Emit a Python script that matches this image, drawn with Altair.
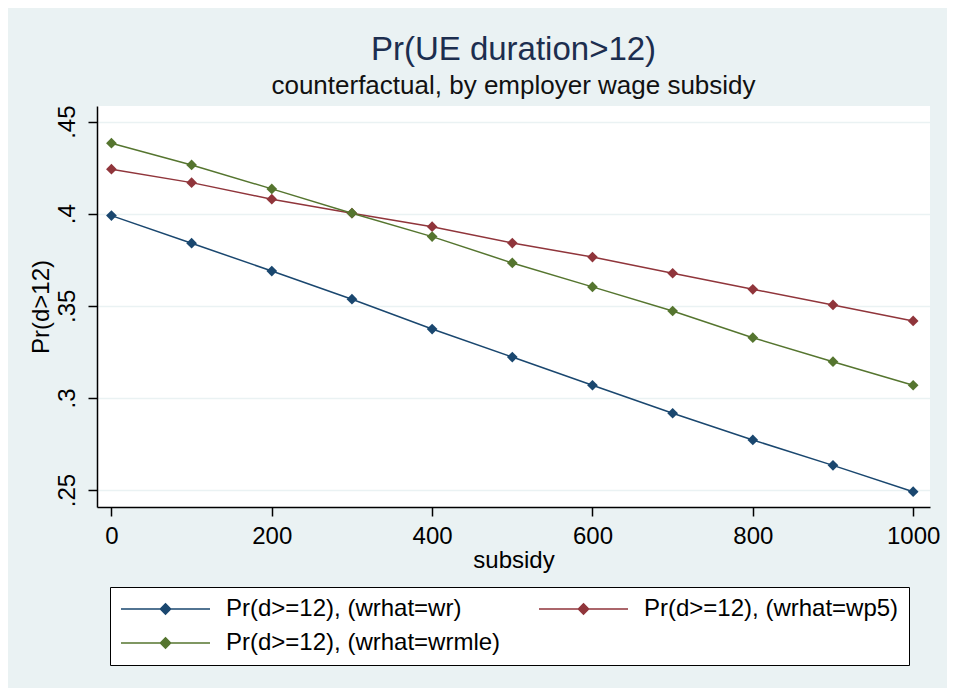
import altair as alt
import pandas as pd

# ---- data ----
subsidy = [0, 100, 200, 300, 400, 500, 600, 700, 800, 900, 1000]
series_names = [
    "Pr(d>=12), (wrhat=wr)",
    "Pr(d>=12), (wrhat=wp5)",
    "Pr(d>=12), (wrhat=wrmle)",
]
pr_wr = [0.3990, 0.3840, 0.3689, 0.3536, 0.3374, 0.3222, 0.3069, 0.2917, 0.2772, 0.2634, 0.2491]
pr_wp5 = [0.4242, 0.4169, 0.4079, 0.4003, 0.3930, 0.3841, 0.3765, 0.3677, 0.3590, 0.3505, 0.3418]
pr_wrmle = [0.4383, 0.4265, 0.4135, 0.4003, 0.3876, 0.3733, 0.3603, 0.3472, 0.3327, 0.3197, 0.3069]
colors = ["#1A476F", "#90353B", "#55752F"]
x_ticks = [0, 200, 400, 600, 800, 1000]
y_ticks = [0.25, 0.30, 0.35, 0.40, 0.45]

rows = []
for name, vals in zip(series_names, [pr_wr, pr_wp5, pr_wrmle]):
    for s, v in zip(subsidy, vals):
        rows.append({"subsidy": s, "pr": v, "series": name})
df = pd.DataFrame(rows)

FONT = "Liberation Sans"
BG = "#EAF2F3"

legend_path = "M-1,0H1M0,-0.115L0.115,0L0,0.115L-0.115,0Z"

legend = alt.Legend(
    title=None,
    orient="none",
    legendX=13,
    legendY=481,
    direction="horizontal",
    columns=2,
    padding=10,
    strokeColor="#000000",
    fillColor="#FFFFFF",
    symbolType=legend_path,
    symbolSize=7921,
    symbolStrokeWidth=1.5,
    symbolOpacity=1,
    clipHeight=24,
    labelFont=FONT,
    labelFontSize=24,
    labelColor="#000000",
    labelOffset=15,
    labelLimit=500,
    columnPadding=37,
    rowPadding=10,
)

color = alt.Color(
    "series:N",
    scale=alt.Scale(domain=series_names, range=colors),
    sort=series_names,
    legend=legend,
)

x = alt.X(
    "subsidy:Q",
    scale=alt.Scale(domain=[-18, 1021], nice=False, zero=False),
    axis=alt.Axis(
        title="subsidy",
        values=x_ticks,
        format="d",
        grid=False,
        labelPadding=8,
        titlePadding=0,
    ),
)
y = alt.Y(
    "pr:Q",
    scale=alt.Scale(domain=[0.2408, 0.4585], nice=False, zero=False),
    axis=alt.Axis(
        title="Pr(d>12)",
        values=y_ticks,
        labelExpr="replace(format(datum.value, '.2~f'), '0.', '.')",
        labelAngle=270,
        labelAlign="center",
        labelBaseline="bottom",
        labelPadding=9,
        titlePadding=2,
        grid=True,
    ),
)

lines = alt.Chart(df).mark_line(strokeWidth=1.5).encode(x=x, y=y, color=color)
points = alt.Chart(df).mark_point(shape="diamond", filled=True, size=115, opacity=1).encode(
    x=x, y=y, color=color
)

chart = (
    alt.layer(lines, points)
    .properties(
        width=833,
        height=401,
        autosize=alt.AutoSizeParams(type="none"),
        padding={"left": 89, "top": 98, "right": 17, "bottom": 181},
        title=alt.TitleParams(
            text="Pr(UE duration>12)",
            subtitle="counterfactual, by employer wage subsidy",
            font=FONT,
            fontSize=33,
            fontWeight="normal",
            color="#1C2E4F",
            subtitleFont=FONT,
            subtitleFontSize=26,
            subtitleColor="#111111",
            subtitlePadding=6,
            anchor="middle",
            offset=6,
        ),
    )
    .configure(background=BG)
    .configure_view(fill="#FFFFFF", stroke=None)
    .configure_axis(
        labelFont=FONT,
        titleFont=FONT,
        labelFontSize=24,
        titleFontSize=24,
        titleFontWeight="normal",
        labelColor="#000000",
        titleColor="#000000",
        domainColor="#000000",
        domainWidth=1.5,
        tickColor="#000000",
        tickWidth=1.5,
        tickSize=9,
        gridColor=BG,
        gridWidth=1.5,
    )
)

chart.save("out.html", embed_options={"renderer": "svg", "actions": False})
